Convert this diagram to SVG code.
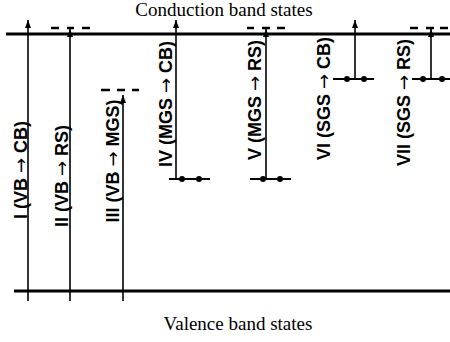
<svg xmlns="http://www.w3.org/2000/svg" width="450" height="342" viewBox="0 0 450 342">
<style>
.band{stroke:#000;stroke-width:3;fill:none}
.tr{stroke:#000;stroke-width:1.6;fill:none}
.lvl{stroke:#000;stroke-width:2;fill:none}
.dash{stroke:#000;stroke-width:2.5;fill:none}
.dot{fill:#000}
.lab{font-family:"Liberation Sans",Arial,sans-serif;font-weight:bold;font-size:18px;fill:#000;text-anchor:middle}
.ar{font-family:"DejaVu Sans",sans-serif;font-weight:normal}
.cap{font-family:"Liberation Serif","Times New Roman",serif;font-size:19px;fill:#000;text-anchor:middle}
</style>
<defs>
<marker id="ah" viewBox="0 0 8 6" refX="8" refY="3" markerWidth="8" markerHeight="6" markerUnits="userSpaceOnUse" orient="auto">
<path d="M0,0 L8,3 L0,6 z" fill="#000"/>
</marker>
</defs>
<text class="cap" x="224" y="16">Conduction band states</text>
<text class="cap" x="238" y="330">Valence band states</text>
<g id="bands">
<line class="band" x1="6" y1="34" x2="450" y2="34"/>
<line class="band" x1="14" y1="291" x2="450" y2="291"/>
</g>
<g id="levels">
<path class="dash" d="M51,28H59M67,28H74M82,28H90"/>
<path class="dash" d="M247,28H254M262,28H270M277,28H285"/>
<path class="dash" d="M410,28H418M426,28H434M440,28H448"/>
<path class="dash" d="M101,90H110M117,90H125M132,90H139"/>
<line class="lvl" x1="169" y1="179" x2="210" y2="179"/>
<circle class="dot" cx="182" cy="179" r="3"/><circle class="dot" cx="199" cy="179" r="3"/>
<line class="lvl" x1="250" y1="179" x2="291" y2="179"/>
<circle class="dot" cx="263" cy="179" r="3"/><circle class="dot" cx="280" cy="179" r="3"/>
<line class="lvl" x1="333" y1="79" x2="374" y2="79"/>
<circle class="dot" cx="347" cy="79" r="3"/><circle class="dot" cx="364" cy="79" r="3"/>
<line class="lvl" x1="412" y1="79" x2="450" y2="79"/>
<circle class="dot" cx="423" cy="79" r="3"/><circle class="dot" cx="442" cy="79" r="3"/>
</g>
<g id="connectors">
<line class="tr" x1="28" y1="301" x2="28" y2="20" marker-end="url(#ah)"/>
<line class="tr" x1="70" y1="301" x2="70" y2="29" marker-end="url(#ah)"/>
<circle class="dot" cx="70" cy="35" r="2.2"/>
<line class="tr" x1="123" y1="301" x2="123" y2="95" marker-end="url(#ah)"/>
<line class="tr" x1="176" y1="179" x2="176" y2="20" marker-end="url(#ah)"/>
<line class="tr" x1="266" y1="179" x2="266" y2="29" marker-end="url(#ah)"/>
<circle class="dot" cx="266" cy="35" r="2.2"/>
<line class="tr" x1="355" y1="79" x2="355" y2="20" marker-end="url(#ah)"/>
<line class="tr" x1="431" y1="79" x2="431" y2="29" marker-end="url(#ah)"/>
<circle class="dot" cx="431" cy="35" r="2.2"/>
</g>
<g id="t1"><text class="lab" transform="translate(26.5,170) rotate(-90)">I (VB <tspan class="ar">→</tspan> CB)</text></g>
<g id="t2"><text class="lab" transform="translate(68,176) rotate(-90)">II (VB <tspan class="ar">→</tspan> RS)</text></g>
<g id="t3"><text class="lab" transform="translate(119,161) rotate(-90)">III (VB <tspan class="ar">→</tspan> MGS)</text></g>
<g id="t4"><text class="lab" transform="translate(172,104) rotate(-90)">IV (MGS <tspan class="ar">→</tspan> CB)</text></g>
<g id="t5"><text class="lab" transform="translate(260.5,100) rotate(-90)">V (MGS <tspan class="ar">→</tspan> RS)</text></g>
<g id="t6"><text class="lab" transform="translate(330,98.5) rotate(-90)">VI (SGS <tspan class="ar">→</tspan> CB)</text></g>
<g id="t7"><text class="lab" transform="translate(410,102.5) rotate(-90)">VII (SGS <tspan class="ar">→</tspan> RS)</text></g>
</svg>
